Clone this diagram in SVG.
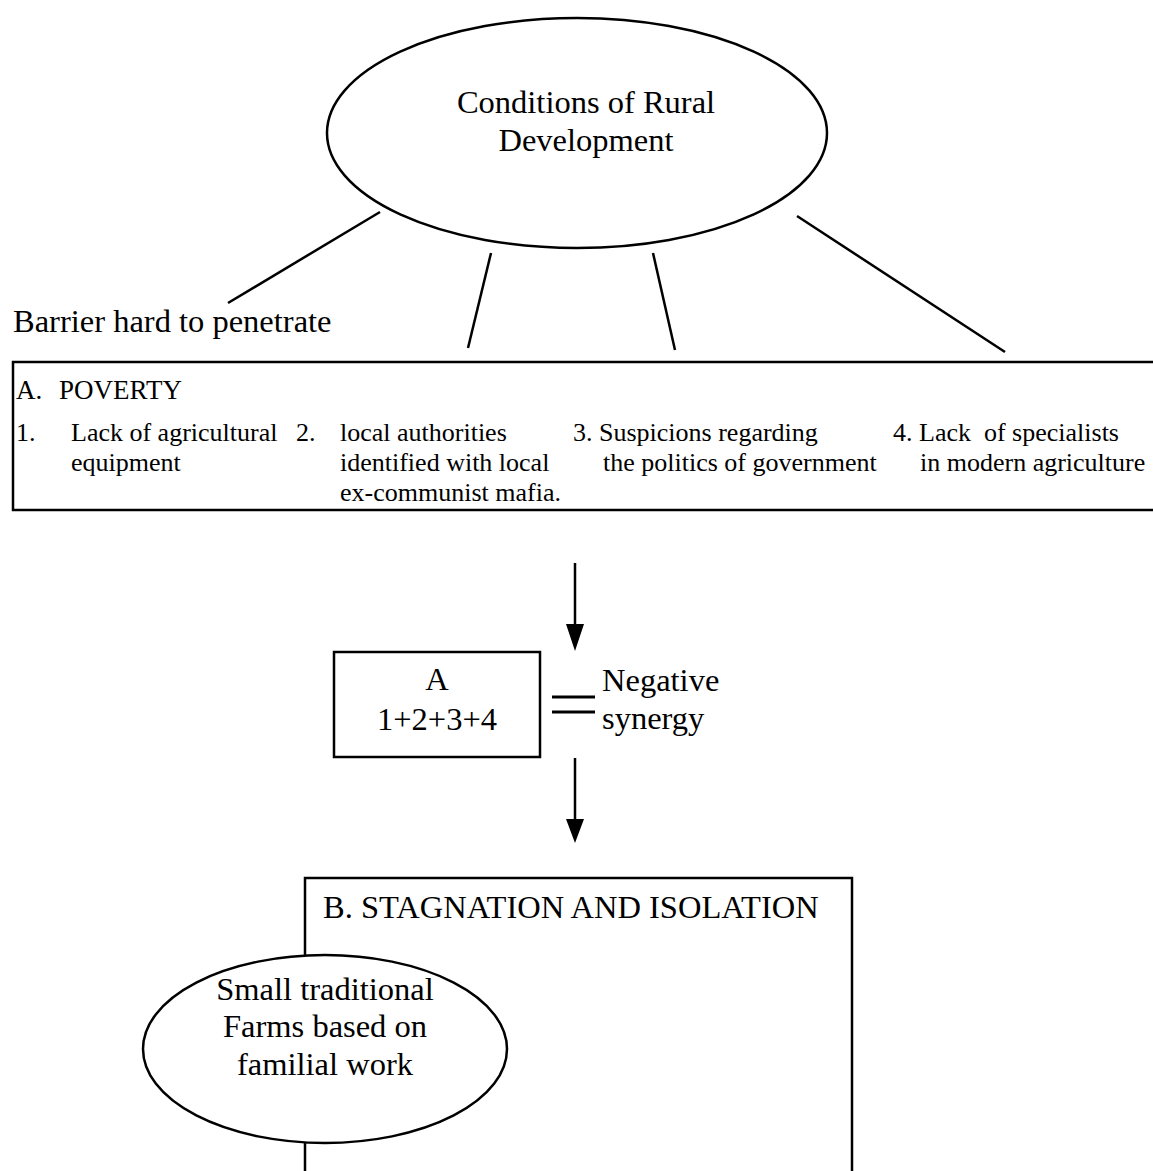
<svg xmlns="http://www.w3.org/2000/svg" width="1153" height="1171" viewBox="0 0 1153 1171">
<style>
text{font-family:"Liberation Serif","Times New Roman",serif;fill:#000}
.big{font-size:32.5px}
.item{font-size:26px}
.head{font-size:27px}
.shape{fill:#fff;stroke:#000;stroke-width:2.5}
.ln{stroke:#000;stroke-width:2.5;fill:none}
.arrowhead{fill:#000}
</style>
<rect width="1153" height="1171" fill="#fff"/>
<g id="connectors">
<line class="ln" x1="380" y1="212" x2="228" y2="303"/>
<line class="ln" x1="491" y1="253" x2="468" y2="348"/>
<line class="ln" x1="653" y1="253" x2="675" y2="350"/>
<line class="ln" x1="797" y1="216" x2="1005" y2="352"/>
<line class="ln" x1="575" y1="563" x2="575" y2="630"/>
<polygon class="arrowhead" points="566,624 584,624 575,651"/>
<line class="ln" x1="575" y1="758" x2="575" y2="824"/>
<polygon class="arrowhead" points="566,819 584,819 575,843"/>
<line x1="552" y1="697" x2="595" y2="697" stroke="#000" stroke-width="3"/>
<line x1="552" y1="712" x2="595" y2="712" stroke="#000" stroke-width="3"/>
</g>
<g id="conditions">
<ellipse class="shape" cx="577" cy="133" rx="250" ry="115"/>
<text class="big" x="586" y="113" text-anchor="middle">Conditions of Rural</text>
<text class="big" x="586" y="151" text-anchor="middle">Development</text>
</g>
<g id="barrier">
<text class="big" x="13" y="332">Barrier hard to penetrate</text>
</g>
<g id="poverty">
<rect class="shape" x="13" y="362" width="1160" height="148" stroke-width="2"/>
<text class="head" x="16" y="399">A.</text>
<text class="head" x="59" y="399">POVERTY</text>
<text class="item" x="16" y="441">1.</text>
<text class="item" x="71" y="441">Lack of agricultural</text>
<text class="item" x="71" y="471">equipment</text>
<text class="item" x="296" y="441">2.</text>
<text class="item" x="340" y="441">local authorities</text>
<text class="item" x="340" y="471">identified with local</text>
<text class="item" x="340" y="501">ex-communist mafia.</text>
<text class="item" x="573" y="441">3. Suspicions regarding</text>
<text class="item" x="603" y="471">the politics of government</text>
<text class="item" x="893" y="441">4. Lack&#160; of specialists</text>
<text class="item" x="920" y="471">in modern agriculture</text>
</g>
<g id="sum">
<rect class="shape" x="334" y="652" width="206" height="105" stroke-width="2"/>
<text class="big" x="437" y="690" text-anchor="middle">A</text>
<text class="big" x="437" y="730" text-anchor="middle">1+2+3+4</text>
</g>
<g id="synergy">
<text class="big" x="602" y="691">Negative</text>
<text class="big" x="602" y="729">synergy</text>
</g>
<g id="stagnation">
<path class="ln" d="M305,1171 V878 H852 V1171" stroke-width="2"/>
<text class="big" x="323" y="918">B. STAGNATION AND ISOLATION</text>
</g>
<g id="farms">
<ellipse class="shape" cx="325" cy="1049" rx="182" ry="94"/>
<text class="big" x="325" y="1000" text-anchor="middle">Small traditional</text>
<text class="big" x="325" y="1037" text-anchor="middle">Farms based on</text>
<text class="big" x="325" y="1075" text-anchor="middle">familial work</text>
</g>
</svg>
